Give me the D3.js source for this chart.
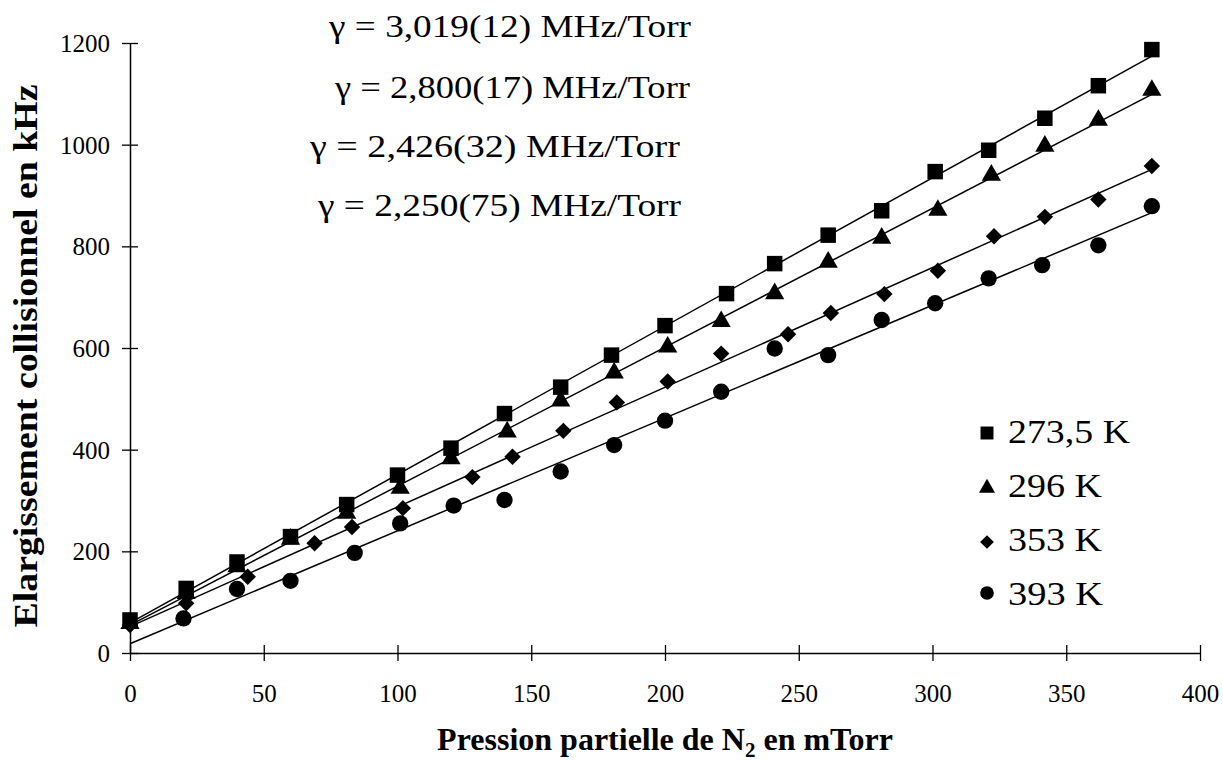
<!DOCTYPE html>
<html>
<head>
<meta charset="utf-8">
<script src="https://cdn.jsdelivr.net/npm/d3@7"></script>
<style>
  html, body { margin: 0; padding: 0; background: #fff; }
  svg { display: block; }
  svg text { font-family: "Liberation Serif", "Times New Roman", "DejaVu Serif", serif; fill: #000; }
</style>
</head>
<body>
<svg id="chart" width="1223" height="761" font-family="Liberation Serif, serif"></svg>
<script>
// Collisional broadening (kHz) versus N2 partial pressure (mTorr)
const temperatures = ["273,5 K", "296 K", "353 K", "393 K"];
const symbolsUsed  = ["square", "triangle", "diamond", "circle"];

const pressure2735 = [0, 21, 40, 60, 81, 100, 120, 140, 161, 180, 200, 223, 241, 261, 281, 301, 321, 342, 362, 382];
const width2735    = [65, 127, 179, 229, 292, 350, 403, 471, 523, 586, 644, 707, 766, 822, 870, 947, 989, 1052, 1116, 1187];

const pressure296  = [0, 21, 40, 60, 81, 101, 120, 141, 161, 181, 201, 221, 241, 261, 281, 302, 322, 342, 362, 382];
const width296     = [58, 117, 170, 224, 275, 324, 382, 435, 496, 551, 602, 652, 707, 769, 816, 871, 940, 997, 1048, 1107];

const pressure353  = [0, 21, 44, 69, 83, 102, 128, 143, 162, 182, 201, 221, 246, 262, 282, 302, 323, 342, 362, 382];
const width353     = [55, 98, 150, 216, 248, 285, 346, 386, 437, 493, 534, 589, 627, 669, 706, 752, 820, 858, 892, 958];

const pressure393  = [20, 40, 60, 84, 101, 121, 140, 161, 181, 200, 221, 241, 261, 281, 301, 321, 341, 362, 382];
const width393     = [68, 126, 142, 197, 255, 290, 301, 357, 409, 457, 514, 599, 586, 655, 688, 737, 763, 802, 879];

const gammaLabels = [
  "γ = 3,019(12) MHz/Torr",
  "γ = 2,800(17) MHz/Torr",
  "γ = 2,426(32) MHz/Torr",
  "γ = 2,250(75) MHz/Torr"
];

const xTicks = [0, 50, 100, 150, 200, 250, 300, 350, 400];
const yTicks = [0, 200, 400, 600, 800, 1000, 1200];

const seriesList = [
  { name: temperatures[0], symbol: symbolsUsed[0], x: pressure2735, y: width2735 },
  { name: temperatures[1], symbol: symbolsUsed[1], x: pressure296,  y: width296 },
  { name: temperatures[2], symbol: symbolsUsed[2], x: pressure353,  y: width353 },
  { name: temperatures[3], symbol: symbolsUsed[3], x: pressure393,  y: width393 }
];

const svg = d3.select("#chart");

const x = d3.scaleLinear().domain([0, 400]).range([130, 1200]);
const y = d3.scaleLinear().domain([0, 1200]).range([653, 43]);

// Axes with ticks crossing the axis line
const xAxis = d3.axisBottom(x).tickValues(xTicks).tickSize(0).tickFormat("");
const gx = svg.append("g").attr("transform", `translate(0,${y(0)})`).call(xAxis)
  .attr("font-family", null).attr("font-size", null);
gx.select(".domain").attr("stroke", "#000").attr("stroke-width", 1.5);
gx.selectAll(".tick").append("line")
  .attr("y1", -8).attr("y2", 8).attr("stroke", "#000").attr("stroke-width", 1.3);
gx.selectAll(".tick").append("text")
  .attr("y", 49).attr("text-anchor", "middle")
  .style("font-size", "25px")
  .text(d => d);

const yAxis = d3.axisLeft(y).tickValues(yTicks).tickSize(0).tickFormat("");
const gy = svg.append("g").attr("transform", `translate(${x(0)},0)`).call(yAxis)
  .attr("font-family", null).attr("font-size", null);
gy.select(".domain").attr("stroke", "#000").attr("stroke-width", 1.5);
gy.selectAll(".tick").append("line")
  .attr("x1", -8).attr("x2", 8).attr("stroke", "#000").attr("stroke-width", 1.3);
gy.selectAll(".tick").append("text")
  .attr("x", -20).attr("dy", "0.34em").attr("text-anchor", "end")
  .style("font-size", "25px")
  .text(d => d);

// Least-squares fit for each temperature
function fit(xs, ys) {
  const mx = d3.mean(xs), my = d3.mean(ys);
  let sxy = 0, sxx = 0;
  xs.forEach((v, i) => { sxy += (v - mx) * (ys[i] - my); sxx += (v - mx) * (v - mx); });
  const slope = sxy / sxx;
  return { slope, intercept: my - slope * mx };
}

const line = d3.line().x(d => x(d[0])).y(d => y(d[1]));
seriesList.forEach(s => {
  const f = fit(s.x, s.y);
  const x1 = d3.max(s.x);
  svg.append("path")
    .attr("d", line([[0, f.intercept], [x1, f.intercept + f.slope * x1]]))
    .attr("fill", "none").attr("stroke", "#000").attr("stroke-width", 1.5);
});

// Marker shapes
function symbolPath(kind, scale) {
  switch (kind) {
    case "square":   return d3.symbol(d3.symbolSquare, 240 * scale)();
    case "triangle": return d3.symbol(d3.symbolTriangle, 160 * scale)();
    case "diamond":  return d3.symbol(d3.symbolSquare, 135 * scale)();
    default:         return d3.symbol(d3.symbolCircle, 210 * scale)();
  }
}
function symbolRotate(kind) { return kind === "diamond" ? " rotate(45)" : ""; }

seriesList.forEach(s => {
  svg.append("g").selectAll("path")
    .data(s.x.map((v, i) => [v, s.y[i]]))
    .join("path")
    .attr("d", symbolPath(s.symbol, 1))
    .attr("transform", d => `translate(${x(d[0])},${y(d[1])})${symbolRotate(s.symbol)}`)
    .attr("fill", "#000");
});

// Fitted broadening coefficients
const gammaPos = [[329, 37, 362], [335, 98, 355], [310, 157, 370], [318, 216, 363]];
svg.append("g").selectAll("text")
  .data(gammaLabels)
  .join("text")
  .attr("x", (d, i) => gammaPos[i][0])
  .attr("y", (d, i) => gammaPos[i][1])
  .attr("textLength", (d, i) => gammaPos[i][2])
  .attr("lengthAdjust", "spacingAndGlyphs")
  .style("font-size", "31px")
  .text(d => d);

// Legend
const legend = svg.append("g").attr("transform", "translate(987,0)");
const legendMarkY = [433, 488, 542, 593];
const legendTextY = [443, 497, 551, 605];
const legendTextW = [122, 94, 94, 95];
seriesList.forEach((s, i) => {
  legend.append("path")
    .attr("d", symbolPath(s.symbol, 0.7))
    .attr("transform", `translate(0,${legendMarkY[i]})${symbolRotate(s.symbol)}`)
    .attr("fill", "#000");
  legend.append("text")
    .attr("x", 21).attr("y", legendTextY[i])
    .attr("textLength", legendTextW[i])
    .attr("lengthAdjust", "spacingAndGlyphs")
    .style("font-size", "34px")
    .text(s.name);
});

// Axis titles
svg.append("text")
  .attr("transform", `translate(37,${(y(0) + y(1200)) / 2 + 8}) rotate(-90)`)
  .attr("text-anchor", "middle")
  .attr("textLength", 543)
  .attr("lengthAdjust", "spacingAndGlyphs")
  .style("font-size", "33px").style("font-weight", "bold")
  .text("Elargissement collisionnel en kHz");

const xt = svg.append("text")
  .attr("x", (x(0) + x(400)) / 2).attr("y", 750)
  .attr("text-anchor", "middle")
  .style("font-size", "32px").style("font-weight", "bold");
xt.append("tspan").text("Pression partielle de N");
xt.append("tspan").attr("dy", 7).style("font-size", "21px").text("2");
xt.append("tspan").attr("dy", -7).text(" en mTorr");
</script>
</body>
</html>
